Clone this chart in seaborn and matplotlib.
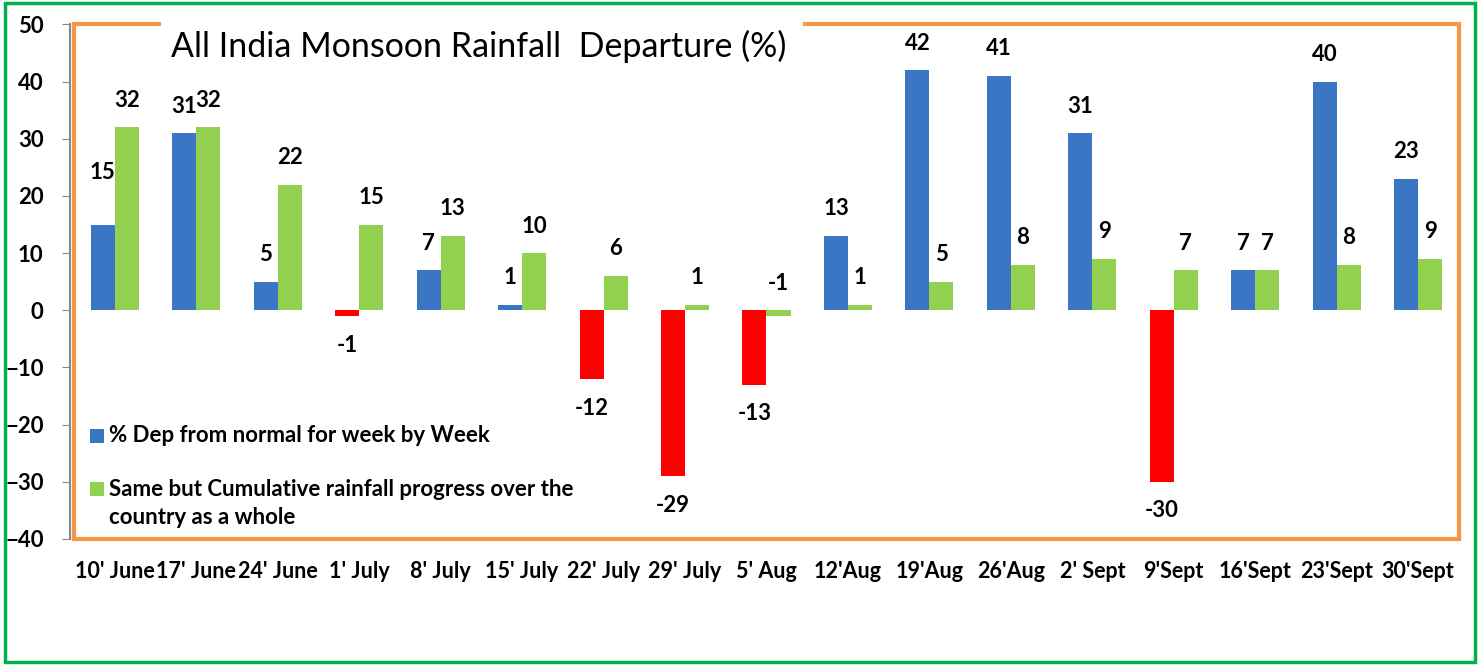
import pandas as pd
import seaborn as sns
import matplotlib.pyplot as plt
from matplotlib.patches import Rectangle

weeks = ["10' June", "17' June", "24' June", "1' July", "8' July", "15' July",
         "22' July", "29' July", "5' Aug", "12'Aug", "19'Aug", "26'Aug",
         "2' Sept", "9'Sept", "16'Sept", "23'Sept", "30'Sept"]
weekly_dep = [15, 31, 5, -1, 7, 1, -12, -29, -13, 13, 42, 41, 31, -30, 7, 40, 23]
cumulative_dep = [32, 32, 22, 15, 13, 10, 6, 1, -1, 1, 5, 8, 9, 7, 7, 8, 9]
series_names = ['% Dep from normal for week by Week',
                'Same but Cumulative rainfall progress over the\ncountry as a whole']
y_ticks = list(range(-40, 51, 10))
title = 'All India Monsoon Rainfall  Departure (%)'

BLUE = '#3A76C4'
GREEN = '#92D050'
RED = '#FF0000'
ORANGE = '#F79646'
BORDER = '#00B050'

df = pd.DataFrame({
    'week': weeks * 2,
    'value': weekly_dep + cumulative_dep,
    'series': [series_names[0]] * len(weeks) + [series_names[1]] * len(weeks),
})

plt.rcParams['font.family'] = ['Lato', 'DejaVu Sans']
plt.rcParams['font.weight'] = 'bold'

fig = plt.figure(figsize=(14.78, 6.65), dpi=100)
ax = fig.add_axes([0.0501, 0.1895, 0.937, 0.7737])

sns.barplot(data=df, x='week', y='value', hue='series', order=weeks,
            hue_order=series_names, palette=[BLUE, GREEN], width=0.59,
            errorbar=None, legend=False, ax=ax, linewidth=0, saturation=1)

# negative weekly bars are drawn in red
for patch, v in zip(ax.containers[0], weekly_dep):
    if v < 0:
        patch.set_facecolor(RED)

# value labels
for container, vals, name in zip(ax.containers, [weekly_dep, cumulative_dep], ['w', 'c']):
    for i, (patch, v) in enumerate(zip(container, vals)):
        x = patch.get_x() + patch.get_width() / 2
        if v < 0 and name == 'w':
            off = -21
        else:
            off = 19.5
            if name == 'w' and i == 0:
                off += 18  # label lifted clear of the taller neighbour
        ax.annotate(f'{v}', (x, max(v, 0) if off > 0 else v), textcoords='offset points',
                    xytext=(0, off), ha='center', va='center',
                    fontsize=16, fontweight='bold', color='black')

ax.set_ylim(-40, 50)
ax.set_xlim(-0.5, len(weeks) - 0.5)
ax.set_yticks(y_ticks)
ax.set_xlabel('')
ax.set_ylabel('')

ax.tick_params(axis='y', direction='out', length=6, color='#868686', pad=13, labelsize=16)
ax.tick_params(axis='x', length=0, pad=16, labelsize=15.5)

# frame: gray y axis, orange box with a gap for the title
for s in ['top', 'right', 'bottom']:
    ax.spines[s].set_visible(False)
ax.spines['left'].set_position(('outward', 3))
ax.spines['left'].set_color('#868686')
ax.spines['left'].set_linewidth(1.5)

lw = 3
ax.plot([0, 0], [0, 1], transform=ax.transAxes, color=ORANGE, lw=lw, clip_on=False, solid_capstyle='butt')
ax.plot([1, 1], [0, 1], transform=ax.transAxes, color=ORANGE, lw=lw, clip_on=False, solid_capstyle='butt')
ax.plot([0, 1], [0, 0], transform=ax.transAxes, color=ORANGE, lw=lw, clip_on=False, solid_capstyle='projecting')
ax.plot([0, 0.061], [1, 1], transform=ax.transAxes, color=ORANGE, lw=lw, clip_on=False, solid_capstyle='projecting')
ax.plot([0.528, 1], [1, 1], transform=ax.transAxes, color=ORANGE, lw=lw, clip_on=False, solid_capstyle='projecting')

ax.text(0.070, 0.937, title, transform=ax.transAxes, fontsize=24.5,
        fontweight='normal', va='baseline', ha='left', color='black')

# legend
for ybot, color in zip([0.1866, 0.0836], [BLUE, GREEN]):
    ax.add_patch(Rectangle((0.0116, ybot), 0.0101, 0.0272, transform=ax.transAxes,
                           facecolor=color, edgecolor='none', clip_on=False))
ax.text(0.0253, 0.2002, series_names[0], transform=ax.transAxes, fontsize=16,
        fontweight='bold', va='center', ha='left')
ax.text(0.0253, 0.0690, series_names[1], transform=ax.transAxes, fontsize=16,
        fontweight='bold', va='center', ha='left', linespacing=1.45)

fig.patches.append(Rectangle((0.0034, 0.0045), 0.9946, 0.991, transform=fig.transFigure,
                             fill=False, edgecolor=BORDER, linewidth=2.5))

fig.savefig('out.png', dpi=100)
